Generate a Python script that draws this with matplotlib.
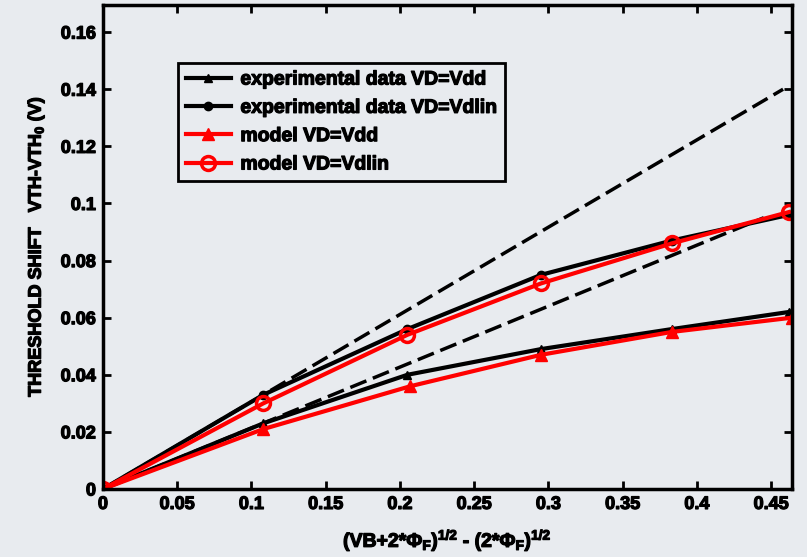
import matplotlib.pyplot as plt
import matplotlib.patheffects as pe

plt.rcParams['font.family'] = ['Liberation Sans', 'DejaVu Sans']
plt.rcParams['font.weight'] = 'bold'
plt.rcParams['mathtext.fontset'] = 'custom'
plt.rcParams['mathtext.rm'] = 'Liberation Sans:bold'
plt.rcParams['mathtext.it'] = 'Liberation Sans:bold'
plt.rcParams['mathtext.bf'] = 'Liberation Sans:bold'

# data
x_exp = [0, 0.108, 0.205, 0.295, 0.383, 0.462]
exp_vdd = [0, 0.023, 0.040, 0.049, 0.056, 0.062]
exp_vdlin = [0, 0.033, 0.056, 0.075, 0.087, 0.096]
x_mod_vdd = [0, 0.108, 0.207, 0.295, 0.383, 0.464]
mod_vdd = [0, 0.021, 0.036, 0.047, 0.055, 0.060]
x_mod_vdlin = [0, 0.108, 0.205, 0.295, 0.383, 0.462]
mod_vdlin = [0, 0.030, 0.054, 0.072, 0.086, 0.097]
dash_x1 = [0, 0.458]
dash_y1 = [0, 0.140]
dash_x2 = [0, 0.445]
dash_y2 = [0, 0.095]

bg = '#e8ebef'
heavy = [pe.withStroke(linewidth=0.9, foreground='black')]

fig = plt.figure(figsize=(8.07, 5.57), dpi=100, facecolor=bg)
ax = fig.add_axes([103 / 807, 68 / 557, 689 / 807, 484 / 557])
ax.set_facecolor(bg)

ax.plot(dash_x1, dash_y1, 'k--', lw=2.5, dashes=(5, 2))
ax.plot(dash_x2, dash_y2, 'k--', lw=2.5, dashes=(5, 2))

ax.plot(x_exp, exp_vdd, color='black', lw=3, marker='^', ms=6,
        label='experimental data VD=Vdd')
ax.plot(x_exp, exp_vdlin, color='black', lw=3, marker='o', ms=6,
        label='experimental data VD=Vdlin')
ax.plot(x_mod_vdd, mod_vdd, color='red', lw=3, marker='^', ms=8,
        label='model VD=Vdd')
ax.plot(x_mod_vdlin, mod_vdlin, color='red', lw=3, marker='o', ms=10,
        mfc='none', mew=2.5, label='model VD=Vdlin')

ax.set_xlim(0, 0.464)
ax.set_ylim(0, 0.1695)
ax.set_xticks([0, 0.05, 0.1, 0.15, 0.2, 0.25, 0.3, 0.35, 0.4, 0.45])
ax.set_xticklabels(['0', '0.05', '0.1', '0.15', '0.2', '0.25', '0.3', '0.35', '0.4', '0.45'])
ax.set_yticks([0, 0.02, 0.04, 0.06, 0.08, 0.1, 0.12, 0.14, 0.16])
ax.set_yticklabels(['0', '0.02', '0.04', '0.06', '0.08', '0.1', '0.12', '0.14', '0.16'])
ax.tick_params(direction='in', length=6, width=2, labelsize=13,
               top=True, right=True, pad=5)
for s in ax.spines.values():
    s.set_linewidth(2.5)
for t in ax.get_xticklabels() + ax.get_yticklabels():
    t.set_path_effects(heavy)

ax.set_xlabel(r'(VB+2*$\Phi_F$)$^{1/2}$ - (2*$\Phi_F$)$^{1/2}$',
              fontsize=14, fontweight='bold', labelpad=10,
              path_effects=heavy)
ax.set_ylabel(r'THRESHOLD SHIFT   VTH-VTH$_0$ (V)', fontsize=13,
              fontweight='bold', labelpad=10, path_effects=heavy)

leg = ax.legend(loc='upper left', bbox_to_anchor=(0.095, 0.9), fontsize=14,
                frameon=True, fancybox=False, edgecolor='black',
                facecolor=bg, framealpha=1, handlelength=2.3,
                borderpad=0.4, labelspacing=0.55, handletextpad=0.5)
leg.get_frame().set_linewidth(2)
for t in leg.get_texts():
    t.set_fontweight('bold')
    t.set_path_effects(heavy)

fig.savefig('out.png', dpi=100, facecolor=bg)
